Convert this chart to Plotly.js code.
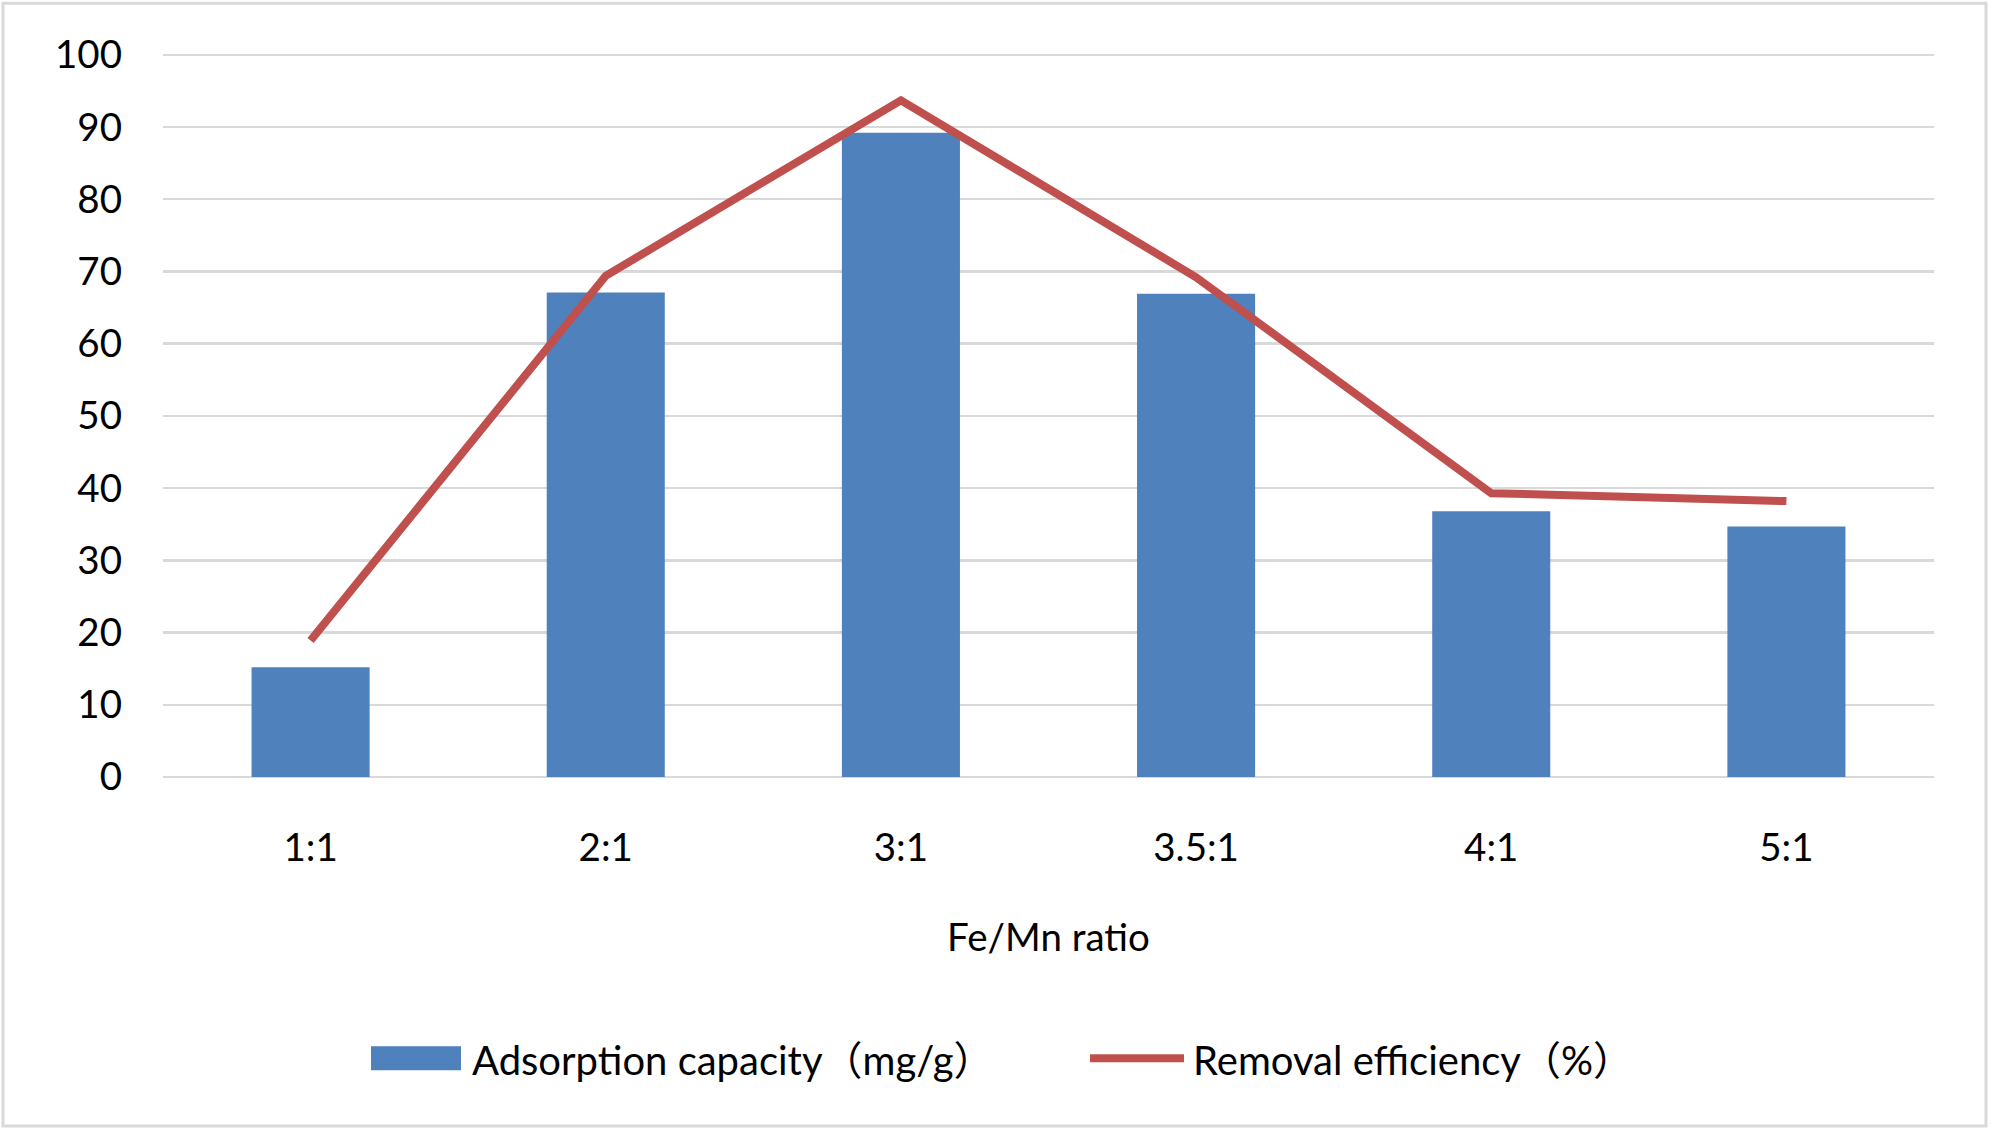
<!DOCTYPE html>
<html>
<head>
<meta charset="utf-8">
<script src="https://cdn.plot.ly/plotly-3.0.1.min.js"></script>
<style>
  html, body { margin: 0; padding: 0; background: #fff; }
  #chart { width: 1999px; height: 1140px; }
</style>
</head>
<body>
<div id="chart"></div>
<script>
// ---- data ----
const categories = ["1:1", "2:1", "3:1", "3.5:1", "4:1", "5:1"];
const adsorptionCapacity = [15.2, 67.1, 89.2, 66.9, 36.8, 34.7];
const removalEfficiency = [18.9, 69.4, 93.7, 69.2, 39.3, 38.2];
const seriesNames = ["Adsorption capacity（mg/g）", "Removal efficiency（%）"];
const xAxisTitle = "Fe/Mn ratio";
const yTickValues = [0, 10, 20, 30, 40, 50, 60, 70, 80, 90, 100];

// ---- layout geometry (pixels) ----
const W = 1999, H = 1140;
const YMAX = 100.25;
const L = 163, R = 1934, B = 777.5;
const UNIT = 7.23;                 // pixels per y unit
const T = B - YMAX * UNIT;
const px = x => (x - L) / (R - L);
const py = y => (B - y) / (B - T);

const FONT = "Lato, 'Noto Sans', 'Noto Sans CJK SC', sans-serif";
const BLUE = "#4F81BD", RED = "#C0504D", GRID = "#D9D9D9";
const FS = 38.5;

const traces = [
  {
    type: "bar",
    x: categories,
    y: adsorptionCapacity,
    name: seriesNames[0],
    marker: { color: BLUE, line: { width: 0 } },
    hoverinfo: "x+y"
  },
  {
    type: "scatter",
    mode: "lines",
    x: categories,
    y: removalEfficiency,
    name: seriesNames[1],
    line: { color: RED, width: 8 },
    hoverinfo: "x+y"
  }
];

const layout = {
  width: W, height: H,
  margin: { l: L, r: W - R, t: T, b: H - B, pad: 0 },
  paper_bgcolor: "#fff",
  plot_bgcolor: "#fff",
  showlegend: false,
  bargap: 0.6,
  font: { family: FONT, size: FS, color: "#000" },
  xaxis: {
    type: "category",
    showgrid: false,
    showline: false,
    zeroline: false,
    ticks: "",
    ticklabelstandoff: 44,
    tickfont: { family: FONT, size: FS, color: "#000" },
    title: { text: xAxisTitle, font: { family: FONT, size: FS, color: "#000" }, standoff: 56 },
    automargin: false
  },
  yaxis: {
    range: [0, YMAX],
    tickvals: yTickValues,
    showgrid: true,
    gridcolor: GRID,
    gridwidth: 2.5,
    zeroline: true,
    zerolinecolor: GRID,
    zerolinewidth: 2.5,
    showline: false,
    ticks: "",
    ticklabelstandoff: 40,
    tickfont: { family: FONT, size: FS, color: "#000" },
    automargin: false
  },
  shapes: [
    // outer chart frame
    { type: "rect", xref: "paper", yref: "paper",
      x0: px(3), x1: px(1986), y0: py(1127), y1: py(3),
      line: { color: GRID, width: 3 }, fillcolor: "rgba(0,0,0,0)", layer: "below" },
    // legend swatch: bars
    { type: "rect", xref: "paper", yref: "paper",
      x0: px(371), x1: px(461), y0: py(1071), y1: py(1047),
      line: { width: 0 }, fillcolor: BLUE },
    // legend swatch: line
    { type: "line", xref: "paper", yref: "paper",
      x0: px(1090), x1: px(1184), y0: py(1059), y1: py(1059),
      line: { color: RED, width: 8 } }
  ],
  annotations: [
    { xref: "paper", yref: "paper", x: px(470), y: py(1061),
      xanchor: "left", yanchor: "middle", showarrow: false,
      text: seriesNames[0], font: { family: FONT, size: 40, color: "#000" } },
    { xref: "paper", yref: "paper", x: px(1191), y: py(1061),
      xanchor: "left", yanchor: "middle", showarrow: false,
      text: seriesNames[1], font: { family: FONT, size: 40, color: "#000" } }
  ]
};

Plotly.newPlot("chart", traces, layout, { displayModeBar: false, staticPlot: true });
</script>
</body>
</html>
